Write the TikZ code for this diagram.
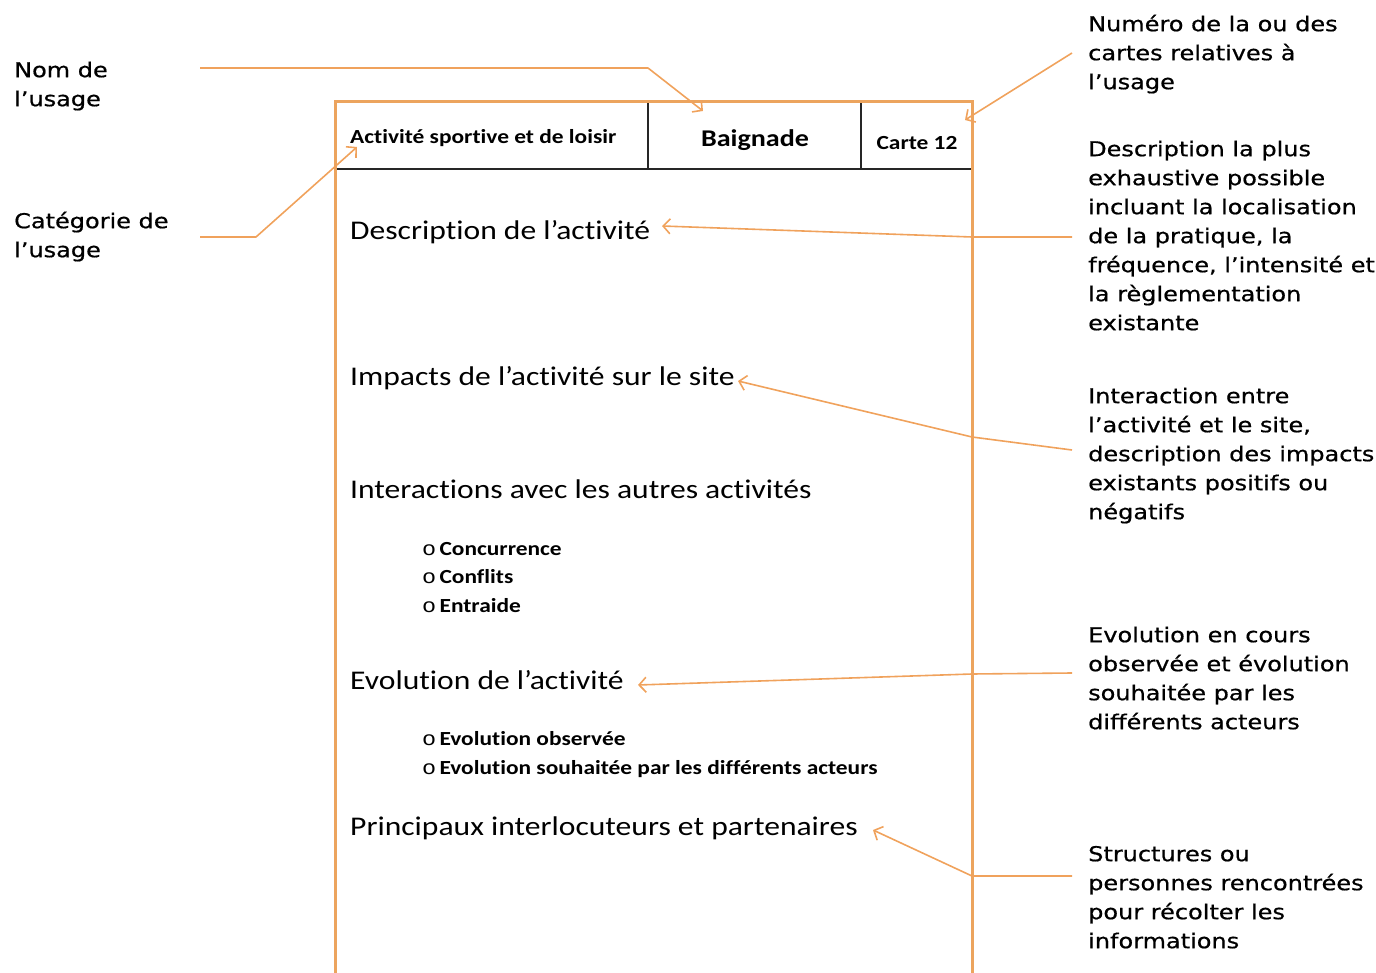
\documentclass[tikz,border=0pt]{standalone}
\usepackage{fontspec}
\setmainfont[FakeStretch=1.17,Ligatures=NoCommon]{Carlito}
\newfontfamily\labfont[FakeStretch=1.17,FakeBold=0.7]{DejaVu Sans}
\newfontfamily\bulfont[FakeStretch=1.17]{Liberation Mono}
\usetikzlibrary{arrows.meta}
\definecolor{frameor}{RGB}{236,164,94}
\definecolor{arrowor}{RGB}{240,162,92}
\begin{document}
\begin{tikzpicture}[x=1pt,y=-1pt,
  lab/.style={font=\labfont\fontsize{20.5}{29}\selectfont, align=left, anchor=north west, inner sep=0pt, text=black},
  hd/.style={font=\fontsize{27}{32}\selectfont, anchor=base west, inner sep=0pt},
  sub/.style={font=\bfseries\fontsize{20}{29}\selectfont, anchor=base west, inner sep=0pt},
  cell/.style={font=\bfseries\fontsize{20}{24}\selectfont, anchor=base, inner sep=0pt},
  ptr/.style={draw=arrowor, line width=1.6pt, -{Straight Barb[length=7pt,width=15pt,line width=1.6pt]}, line join=round},
  frm/.style={draw=frameor, line width=3pt},
  sep/.style={draw=black!85, line width=1.5pt}
]
\useasboundingbox (0,0) rectangle (1376,973);

% frame
\draw[frm] (335,975) -- (335,102) -- (972,102) -- (972,975);
\draw[sep] (336.5,169) -- (970.5,169);
\draw[sep] (648,103.5) -- (648,169);
\draw[sep] (861,103.5) -- (861,169);

% header cells
\node[cell, anchor=base west] (cat) at (350,144) {Activité sportive et de loisir};
\node[cell, font=\bfseries\fontsize{24}{28}\selectfont] (nom) at (755,147) {Baignade};
\node[cell] (carte) at (917,150) {Carte 12};

% body
\node[hd] (desc) at (350,240) {Description de l’activité};
\node[hd] (imp) at (350,386) {Impacts de l’activité sur le site};
\node[hd] (inter) at (350,498) {Interactions avec les autres activités};
\node[sub] (b1) at (422,555) {{\bulfont\mdseries o}\,Concurrence};
\node[sub] (b2) at (422,583) {{\bulfont\mdseries o}\,Conflits};
\node[sub] (b3) at (422,612) {{\bulfont\mdseries o}\,Entraide};
\node[hd] (evo) at (350,689) {Evolution de l’activité};
\node[sub] (b4) at (422,745) {{\bulfont\mdseries o}\,Evolution observée};
\node[sub] (b5) at (422,774) {{\bulfont\mdseries o}\,Evolution souhaitée par les différents acteurs};
\node[hd] (princ) at (350,835) {Principaux interlocuteurs et partenaires};

% left labels
\node[lab] (lnom) at (14,57) {\rule{0pt}{20pt}Nom de\\l’usage};
\node[lab] (lcat) at (14,208) {\rule{0pt}{20pt}Catégorie de\\l’usage};

% right labels
\node[lab] (rnum) at (1088,11) {\rule{0pt}{20pt}Numéro de la ou des\\cartes relatives à\\l’usage};
\node[lab] (rdesc) at (1088,136) {\rule{0pt}{20pt}Description la plus\\exhaustive possible\\incluant la localisation\\de la pratique, la\\fréquence, l’intensité et\\la règlementation\\existante};
\node[lab] (rimp) at (1088,383) {\rule{0pt}{20pt}Interaction entre\\l’activité et le site,\\description des impacts\\existants positifs ou\\négatifs};
\node[lab] (revo) at (1088,622) {\rule{0pt}{20pt}Evolution en cours\\observée et évolution\\souhaitée par les\\différents acteurs};
\node[lab] (rstr) at (1088,841) {\rule{0pt}{20pt}Structures ou\\personnes rencontrées\\pour récolter les\\informations};

% connector points
\coordinate (nomA) at (200,68);  \coordinate (nomB) at (648,68);  \coordinate (nomT) at (703,111);
\coordinate (catA) at (200,237); \coordinate (catB) at (256,237); \coordinate (catT) at (357,147);
\coordinate (numA) at (1072,53); \coordinate (numT) at (965,120);
\coordinate (desA) at (1072,237); \coordinate (desB) at (972,237); \coordinate (desT) at (662,226);
\coordinate (impA) at (1072,450); \coordinate (impB) at (972,437); \coordinate (impT) at (738,381);
\coordinate (evoA) at (1072,673); \coordinate (evoB) at (972,674); \coordinate (evoT) at (638,685);
\coordinate (strA) at (1072,876); \coordinate (strB) at (972,876); \coordinate (strT) at (873,830);

\draw[ptr] (nomA) -- (nomB) -- (nomT);
\draw[ptr] (catA) -- (catB) -- (catT);
\draw[ptr] (numA) -- (numT);
\draw[ptr] (desA) -- (desB) -- (desT);
\draw[ptr] (impA) -- (impB) -- (impT);
\draw[ptr] (evoA) -- (evoB) -- (evoT);
\draw[ptr] (strA) -- (strB) -- (strT);
\end{tikzpicture}
\end{document}
